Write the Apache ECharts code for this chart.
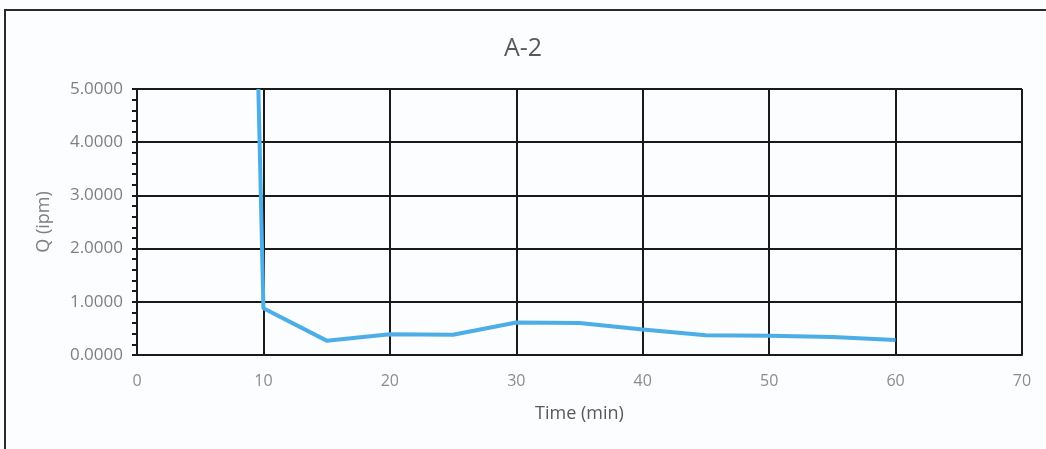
<!DOCTYPE html>
<html>
<head>
<meta charset="utf-8">
<script src="https://cdn.jsdelivr.net/npm/echarts@6/dist/echarts.min.js"></script>
<style>
  html, body { margin: 0; padding: 0; background: #fbfdfe; }
  #chart { width: 1046px; height: 449px; }
</style>
</head>
<body>
<div id="chart"></div>
<script>
// values
var timeMin = [9.6, 10, 15, 20, 25, 30, 35, 40, 45, 50, 55, 60]
var flowQ = [5.0, 0.88, 0.27, 0.39, 0.38, 0.61, 0.60, 0.48, 0.37, 0.36, 0.34, 0.28]
var titleText = 'A-2'
var xName = 'Time (min)'
var yName = 'Q (ipm)'

var points = timeMin.map(function (t, i) { return [t, flowQ[i]] })

var chart = echarts.init(document.getElementById('chart'))
chart.setOption({
  backgroundColor: '#fbfdfe',
  animation: false,
  title: {
    text: titleText,
    left: 'center',
    top: 31,
    textStyle: {
      color: '#595959',
      fontFamily: 'Open Sans',
      fontWeight: 'normal',
      fontSize: 25
    }
  },
  graphic: [{
    type: 'polyline',
    shape: { points: [[5, 449], [5, 10], [1046, 10]] },
    style: { stroke: '#2a2a2a', lineWidth: 2, fill: null }
  }],
  grid: {
    left: 137,
    right: 24,
    top: 89,
    bottom: 94
  },
  xAxis: {
    type: 'value',
    min: 0,
    max: 70,
    interval: 10,
    name: xName,
    nameLocation: 'middle',
    nameGap: 50,
    nameTextStyle: { color: '#595959', fontSize: 18, fontFamily: 'Open Sans' },
    axisLine: { show: true, lineStyle: { color: '#1a1a1a', width: 2 } },
    axisTick: { show: false },
    axisLabel: { color: '#8c8c8c', fontSize: 16, margin: 18, fontFamily: 'Open Sans' },
    splitLine: { show: true, lineStyle: { color: '#1a1a1a', width: 2 } }
  },
  yAxis: {
    type: 'value',
    min: 0,
    max: 5,
    interval: 1,
    name: yName,
    nameLocation: 'middle',
    nameGap: 84,
    nameTextStyle: { color: '#7f7f7f', fontSize: 18, fontFamily: 'Open Sans' },
    axisLine: { show: true, lineStyle: { color: '#1a1a1a', width: 2 } },
    axisTick: { show: true, length: 5, lineStyle: { color: '#1a1a1a', width: 2 } },
    minorTick: { show: true, splitNumber: 5, length: 5, lineStyle: { color: '#1a1a1a', width: 2 } },
    axisLabel: {
      color: '#7f7f7f',
      fontSize: 17,
      margin: 14,
      fontFamily: 'Open Sans',
      formatter: function (v) { return v.toFixed(4) }
    },
    splitLine: { show: true, lineStyle: { color: '#1a1a1a', width: 2 } }
  },
  series: [{
    type: 'line',
    data: points,
    symbol: 'none',
    lineStyle: { color: '#4dade6', width: 4 },
    z: 5
  }]
})
</script>
</body>
</html>
